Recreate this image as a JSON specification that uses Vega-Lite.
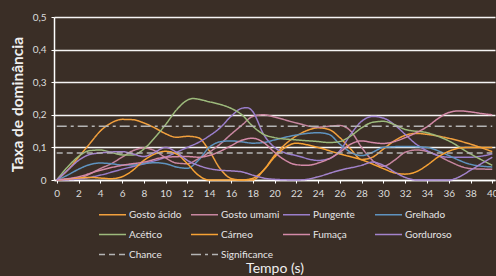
{
  "$schema": "https://vega.github.io/schema/vega-lite/v6.json",
  "width": 441,
  "height": 163,
  "autosize": {"type": "none"},
  "padding": {"left": 54, "top": 17, "right": 1, "bottom": 96},
  "background": "#3a2e26",
  "config": {
    "view": {"stroke": null},
    "font": "Lato",
    "axis": {"labelFont": "Lato", "titleFont": "Lato"},
    "legend": {"labelFont": "Lato"}
  },
  "datasets": {
    "series": [
      {"s":"Gosto ácido","t":0,"v":0},{"s":"Gosto ácido","t":1,"v":0.03},{"s":"Gosto ácido","t":2,"v":0.07},{"s":"Gosto ácido","t":3,"v":0.11},{"s":"Gosto ácido","t":4,"v":0.15},{"s":"Gosto ácido","t":5,"v":0.175},{"s":"Gosto ácido","t":6,"v":0.186},{"s":"Gosto ácido","t":7,"v":0.185},{"s":"Gosto ácido","t":8,"v":0.175},{"s":"Gosto ácido","t":9,"v":0.16},{"s":"Gosto ácido","t":10,"v":0.142},{"s":"Gosto ácido","t":11,"v":0.131},{"s":"Gosto ácido","t":12,"v":0.134},{"s":"Gosto ácido","t":13,"v":0.13},{"s":"Gosto ácido","t":14,"v":0.09},{"s":"Gosto ácido","t":15,"v":0.035},{"s":"Gosto ácido","t":16,"v":0.005},{"s":"Gosto ácido","t":17,"v":0},{"s":"Gosto ácido","t":18,"v":0},{"s":"Gosto ácido","t":19,"v":0.03},{"s":"Gosto ácido","t":20,"v":0.075},{"s":"Gosto ácido","t":21,"v":0.11},{"s":"Gosto ácido","t":22,"v":0.135},{"s":"Gosto ácido","t":23,"v":0.152},{"s":"Gosto ácido","t":24,"v":0.16},{"s":"Gosto ácido","t":25,"v":0.155},{"s":"Gosto ácido","t":26,"v":0.13},{"s":"Gosto ácido","t":27,"v":0.095},{"s":"Gosto ácido","t":28,"v":0.063},{"s":"Gosto ácido","t":29,"v":0.07},{"s":"Gosto ácido","t":30,"v":0.095},{"s":"Gosto ácido","t":31,"v":0.12},{"s":"Gosto ácido","t":32,"v":0.137},{"s":"Gosto ácido","t":33,"v":0.143},{"s":"Gosto ácido","t":34,"v":0.14},{"s":"Gosto ácido","t":36,"v":0.128},{"s":"Gosto ácido","t":38,"v":0.11},{"s":"Gosto ácido","t":40,"v":0.087},

      {"s":"Gosto umami","t":0,"v":0},{"s":"Gosto umami","t":2,"v":0.005},{"s":"Gosto umami","t":3,"v":0.018},{"s":"Gosto umami","t":4,"v":0.035},{"s":"Gosto umami","t":5,"v":0.05},{"s":"Gosto umami","t":6,"v":0.07},{"s":"Gosto umami","t":7,"v":0.09},{"s":"Gosto umami","t":8,"v":0.098},{"s":"Gosto umami","t":9,"v":0.09},{"s":"Gosto umami","t":10,"v":0.068},{"s":"Gosto umami","t":11,"v":0.052},{"s":"Gosto umami","t":12,"v":0.05},{"s":"Gosto umami","t":13,"v":0.065},{"s":"Gosto umami","t":14,"v":0.085},{"s":"Gosto umami","t":15,"v":0.11},{"s":"Gosto umami","t":16,"v":0.14},{"s":"Gosto umami","t":17,"v":0.168},{"s":"Gosto umami","t":18,"v":0.195},{"s":"Gosto umami","t":19,"v":0.2},{"s":"Gosto umami","t":20,"v":0.193},{"s":"Gosto umami","t":22,"v":0.175},{"s":"Gosto umami","t":24,"v":0.162},{"s":"Gosto umami","t":25,"v":0.165},{"s":"Gosto umami","t":26,"v":0.167},{"s":"Gosto umami","t":27,"v":0.15},{"s":"Gosto umami","t":28,"v":0.1},{"s":"Gosto umami","t":29,"v":0.06},{"s":"Gosto umami","t":30,"v":0.042},{"s":"Gosto umami","t":31,"v":0.06},{"s":"Gosto umami","t":32,"v":0.085},{"s":"Gosto umami","t":33,"v":0.092},{"s":"Gosto umami","t":34,"v":0.088},{"s":"Gosto umami","t":35,"v":0.075},{"s":"Gosto umami","t":36,"v":0.058},{"s":"Gosto umami","t":38,"v":0.035},{"s":"Gosto umami","t":40,"v":0.033},

      {"s":"Pungente","t":0,"v":0},{"s":"Pungente","t":2,"v":0.003},{"s":"Pungente","t":4,"v":0.015},{"s":"Pungente","t":6,"v":0.033},{"s":"Pungente","t":8,"v":0.05},{"s":"Pungente","t":10,"v":0.07},{"s":"Pungente","t":11,"v":0.085},{"s":"Pungente","t":12,"v":0.1},{"s":"Pungente","t":13,"v":0.115},{"s":"Pungente","t":14,"v":0.135},{"s":"Pungente","t":15,"v":0.16},{"s":"Pungente","t":16,"v":0.195},{"s":"Pungente","t":17,"v":0.22},{"s":"Pungente","t":17.5,"v":0.222},{"s":"Pungente","t":18,"v":0.21},{"s":"Pungente","t":19,"v":0.14},{"s":"Pungente","t":20,"v":0.1},{"s":"Pungente","t":21,"v":0.083},{"s":"Pungente","t":22,"v":0.075},{"s":"Pungente","t":24,"v":0.06},{"s":"Pungente","t":25,"v":0.065},{"s":"Pungente","t":26,"v":0.09},{"s":"Pungente","t":27,"v":0.14},{"s":"Pungente","t":28,"v":0.18},{"s":"Pungente","t":29,"v":0.195},{"s":"Pungente","t":30,"v":0.19},{"s":"Pungente","t":31,"v":0.17},{"s":"Pungente","t":32,"v":0.14},{"s":"Pungente","t":33,"v":0.11},{"s":"Pungente","t":34,"v":0.09},{"s":"Pungente","t":35,"v":0.075},{"s":"Pungente","t":36,"v":0.07},{"s":"Pungente","t":38,"v":0.07},{"s":"Pungente","t":40,"v":0.08},

      {"s":"Grelhado","t":0,"v":0},{"s":"Grelhado","t":1,"v":0.015},{"s":"Grelhado","t":2,"v":0.033},{"s":"Grelhado","t":3,"v":0.047},{"s":"Grelhado","t":4,"v":0.052},{"s":"Grelhado","t":5,"v":0.05},{"s":"Grelhado","t":6,"v":0.046},{"s":"Grelhado","t":7,"v":0.046},{"s":"Grelhado","t":8,"v":0.05},{"s":"Grelhado","t":9,"v":0.053},{"s":"Grelhado","t":10,"v":0.05},{"s":"Grelhado","t":11,"v":0.04},{"s":"Grelhado","t":12,"v":0.036},{"s":"Grelhado","t":13,"v":0.06},{"s":"Grelhado","t":14,"v":0.1},{"s":"Grelhado","t":15,"v":0.117},{"s":"Grelhado","t":16,"v":0.12},{"s":"Grelhado","t":17,"v":0.117},{"s":"Grelhado","t":18,"v":0.113},{"s":"Grelhado","t":19,"v":0.115},{"s":"Grelhado","t":20,"v":0.123},{"s":"Grelhado","t":22,"v":0.138},{"s":"Grelhado","t":24,"v":0.145},{"s":"Grelhado","t":25,"v":0.14},{"s":"Grelhado","t":26,"v":0.11},{"s":"Grelhado","t":27,"v":0.085},{"s":"Grelhado","t":28,"v":0.075},{"s":"Grelhado","t":29,"v":0.085},{"s":"Grelhado","t":30,"v":0.1},{"s":"Grelhado","t":32,"v":0.103},{"s":"Grelhado","t":34,"v":0.1},{"s":"Grelhado","t":35,"v":0.09},{"s":"Grelhado","t":36,"v":0.075},{"s":"Grelhado","t":37,"v":0.06},{"s":"Grelhado","t":38,"v":0.048},{"s":"Grelhado","t":40,"v":0.04},

      {"s":"Acético","t":0,"v":0},{"s":"Acético","t":1,"v":0.04},{"s":"Acético","t":2,"v":0.072},{"s":"Acético","t":3,"v":0.09},{"s":"Acético","t":4,"v":0.092},{"s":"Acético","t":5,"v":0.085},{"s":"Acético","t":6,"v":0.077},{"s":"Acético","t":7,"v":0.077},{"s":"Acético","t":8,"v":0.095},{"s":"Acético","t":9,"v":0.13},{"s":"Acético","t":10,"v":0.17},{"s":"Acético","t":11,"v":0.215},{"s":"Acético","t":12,"v":0.245},{"s":"Acético","t":12.5,"v":0.25},{"s":"Acético","t":13,"v":0.248},{"s":"Acético","t":14,"v":0.24},{"s":"Acético","t":15,"v":0.232},{"s":"Acético","t":16,"v":0.22},{"s":"Acético","t":17,"v":0.2},{"s":"Acético","t":18,"v":0.165},{"s":"Acético","t":19,"v":0.14},{"s":"Acético","t":20,"v":0.13},{"s":"Acético","t":22,"v":0.123},{"s":"Acético","t":24,"v":0.118},{"s":"Acético","t":25,"v":0.115},{"s":"Acético","t":26,"v":0.118},{"s":"Acético","t":27,"v":0.135},{"s":"Acético","t":28,"v":0.16},{"s":"Acético","t":29,"v":0.177},{"s":"Acético","t":30,"v":0.18},{"s":"Acético","t":31,"v":0.17},{"s":"Acético","t":32,"v":0.155},{"s":"Acético","t":34,"v":0.145},{"s":"Acético","t":36,"v":0.12},{"s":"Acético","t":38,"v":0.08},{"s":"Acético","t":40,"v":0.045},

      {"s":"Cárneo","t":0,"v":0},{"s":"Cárneo","t":1,"v":0.003},{"s":"Cárneo","t":2,"v":0.006},{"s":"Cárneo","t":3,"v":0.008},{"s":"Cárneo","t":4,"v":0.006},{"s":"Cárneo","t":5,"v":0.004},{"s":"Cárneo","t":6,"v":0.01},{"s":"Cárneo","t":7,"v":0.03},{"s":"Cárneo","t":8,"v":0.06},{"s":"Cárneo","t":9,"v":0.08},{"s":"Cárneo","t":10,"v":0.088},{"s":"Cárneo","t":11,"v":0.08},{"s":"Cárneo","t":12,"v":0.05},{"s":"Cárneo","t":13,"v":0.015},{"s":"Cárneo","t":14,"v":0},{"s":"Cárneo","t":16,"v":0},{"s":"Cárneo","t":17,"v":0},{"s":"Cárneo","t":18,"v":0.005},{"s":"Cárneo","t":19,"v":0.03},{"s":"Cárneo","t":20,"v":0.07},{"s":"Cárneo","t":21,"v":0.1},{"s":"Cárneo","t":22,"v":0.113},{"s":"Cárneo","t":23,"v":0.108},{"s":"Cárneo","t":24,"v":0.1},{"s":"Cárneo","t":26,"v":0.08},{"s":"Cárneo","t":28,"v":0.062},{"s":"Cárneo","t":30,"v":0.035},{"s":"Cárneo","t":31,"v":0.022},{"s":"Cárneo","t":32,"v":0.018},{"s":"Cárneo","t":33,"v":0.025},{"s":"Cárneo","t":34,"v":0.045},{"s":"Cárneo","t":35,"v":0.07},{"s":"Cárneo","t":36,"v":0.088},{"s":"Cárneo","t":37,"v":0.098},{"s":"Cárneo","t":38,"v":0.1},{"s":"Cárneo","t":40,"v":0.1},

      {"s":"Fumaça","t":0,"v":0},{"s":"Fumaça","t":2,"v":0.01},{"s":"Fumaça","t":4,"v":0.03},{"s":"Fumaça","t":6,"v":0.045},{"s":"Fumaça","t":8,"v":0.055},{"s":"Fumaça","t":10,"v":0.07},{"s":"Fumaça","t":12,"v":0.072},{"s":"Fumaça","t":13,"v":0.07},{"s":"Fumaça","t":14,"v":0.075},{"s":"Fumaça","t":15,"v":0.088},{"s":"Fumaça","t":16,"v":0.105},{"s":"Fumaça","t":17,"v":0.122},{"s":"Fumaça","t":18,"v":0.128},{"s":"Fumaça","t":19,"v":0.115},{"s":"Fumaça","t":20,"v":0.085},{"s":"Fumaça","t":21,"v":0.06},{"s":"Fumaça","t":22,"v":0.047},{"s":"Fumaça","t":23,"v":0.045},{"s":"Fumaça","t":24,"v":0.052},{"s":"Fumaça","t":25,"v":0.065},{"s":"Fumaça","t":26,"v":0.085},{"s":"Fumaça","t":27,"v":0.11},{"s":"Fumaça","t":28,"v":0.12},{"s":"Fumaça","t":29,"v":0.115},{"s":"Fumaça","t":30,"v":0.112},{"s":"Fumaça","t":31,"v":0.118},{"s":"Fumaça","t":32,"v":0.13},{"s":"Fumaça","t":33,"v":0.145},{"s":"Fumaça","t":34,"v":0.163},{"s":"Fumaça","t":35,"v":0.188},{"s":"Fumaça","t":36,"v":0.207},{"s":"Fumaça","t":37,"v":0.212},{"s":"Fumaça","t":38,"v":0.209},{"s":"Fumaça","t":39,"v":0.204},{"s":"Fumaça","t":40,"v":0.2},

      {"s":"Gorduroso","t":0,"v":0},{"s":"Gorduroso","t":1,"v":0.03},{"s":"Gorduroso","t":2,"v":0.06},{"s":"Gorduroso","t":3,"v":0.078},{"s":"Gorduroso","t":4,"v":0.083},{"s":"Gorduroso","t":5,"v":0.086},{"s":"Gorduroso","t":6,"v":0.087},{"s":"Gorduroso","t":7,"v":0.08},{"s":"Gorduroso","t":8,"v":0.072},{"s":"Gorduroso","t":9,"v":0.085},{"s":"Gorduroso","t":10,"v":0.1},{"s":"Gorduroso","t":11,"v":0.085},{"s":"Gorduroso","t":12,"v":0.06},{"s":"Gorduroso","t":13,"v":0.045},{"s":"Gorduroso","t":14,"v":0.035},{"s":"Gorduroso","t":15,"v":0.03},{"s":"Gorduroso","t":16,"v":0.028},{"s":"Gorduroso","t":17,"v":0.025},{"s":"Gorduroso","t":18,"v":0.015},{"s":"Gorduroso","t":19,"v":0.006},{"s":"Gorduroso","t":20,"v":0.002},{"s":"Gorduroso","t":22,"v":0},{"s":"Gorduroso","t":23,"v":0.002},{"s":"Gorduroso","t":24,"v":0.01},{"s":"Gorduroso","t":26,"v":0.03},{"s":"Gorduroso","t":28,"v":0.045},{"s":"Gorduroso","t":29,"v":0.055},{"s":"Gorduroso","t":30,"v":0.045},{"s":"Gorduroso","t":31,"v":0.025},{"s":"Gorduroso","t":32,"v":0.008},{"s":"Gorduroso","t":33,"v":0},{"s":"Gorduroso","t":36,"v":0},{"s":"Gorduroso","t":37,"v":0.01},{"s":"Gorduroso","t":38,"v":0.03},{"s":"Gorduroso","t":39,"v":0.05},{"s":"Gorduroso","t":40,"v":0.07},

      {"s":"Chance","t":0,"v":0.083},{"s":"Chance","t":40,"v":0.083},
      {"s":"Significance","t":0,"v":0.165},{"s":"Significance","t":40,"v":0.165}
    ]
  },
  "data": {"name": "series"},
  "mark": {"type": "line", "interpolate": "monotone", "strokeWidth": 1.5},
  "encoding": {
    "x": {
      "field": "t", "type": "quantitative",
      "scale": {"domain": [-0.25, 40.25], "nice": false, "zero": false},
      "axis": {
        "title": "Tempo (s)", "titleColor": "#f0f0f0", "titleFontSize": 14, "titleFontWeight": "normal",
        "titleY": 92, "titleBaseline": "alphabetic",
        "values": [0,2,4,6,8,10,12,14,16,18,20,22,24,26,28,30,32,34,36,38,40],
        "grid": false, "domainColor": "#ffffff", "domainWidth": 1.5, "tickColor": "#ffffff", "tickSize": 3, "tickWidth": 1,
        "labelColor": "#dcdcdc", "labelFontSize": 10, "labelPadding": 5
      }
    },
    "y": {
      "field": "v", "type": "quantitative",
      "scale": {"domain": [0, 0.5], "nice": false},
      "axis": {
        "title": "Taxa de dominância", "titleColor": "#f0f0f0", "titleFontSize": 15.5, "titleFontWeight": "bold", "titlePadding": 7, "titleY": 87,
        "values": [0, 0.1, 0.2, 0.3, 0.4, 0.5],
        "labelExpr": "datum.value == 0 ? '0' : replace(format(datum.value, '.1f'), '.', ',')",
        "grid": true, "gridColor": "#ffffff", "gridWidth": 1.5, "gridOpacity": 0.95,
        "domainColor": "#ffffff", "domainWidth": 1.5, "tickColor": "#ffffff", "tickSize": 3,
        "labelColor": "#dcdcdc", "labelFontSize": 10, "labelPadding": 5
      }
    },
    "color": {
      "field": "s", "type": "nominal",
      "scale": {
        "domain": ["Gosto ácido","Gosto umami","Pungente","Grelhado","Acético","Cárneo","Fumaça","Gorduroso","Chance","Significance"],
        "range": ["#f2a03d","#c786a0","#9a7ecb","#5f93bf","#9dba7c","#f7a234","#d48aa8","#a383cc","#b4b4b4","#b4b4b4"]
      },
      "legend": {
        "title": null, "orient": "none", "legendX": 44, "legendY": 183, "columns": 4, "gridAlign": "all",
        "columnPadding": 0, "rowPadding": -11, "padding": 0,
        "symbolType": "stroke", "symbolSize": 729, "symbolStrokeWidth": 1.5, "labelOffset": 2,
        "labelColor": "#e6e6e6", "labelFontSize": 10, "direction": "horizontal"
      }
    },
    "strokeDash": {
      "field": "s", "type": "nominal",
      "scale": {
        "domain": ["Gosto ácido","Gosto umami","Pungente","Grelhado","Acético","Cárneo","Fumaça","Gorduroso","Chance","Significance"],
        "range": [[1,0],[1,0],[1,0],[1,0],[1,0],[1,0],[1,0],[1,0],[6,4],[10,4,3,4]]
      },
      "legend": {
        "title": null, "orient": "none", "legendX": 44, "legendY": 183, "columns": 4, "gridAlign": "all",
        "columnPadding": 0, "rowPadding": -11, "padding": 0,
        "symbolType": "stroke", "symbolSize": 729, "symbolStrokeWidth": 1.5, "labelOffset": 2,
        "labelColor": "#e6e6e6", "labelFontSize": 10, "direction": "horizontal"
      }
    }
  }
}
